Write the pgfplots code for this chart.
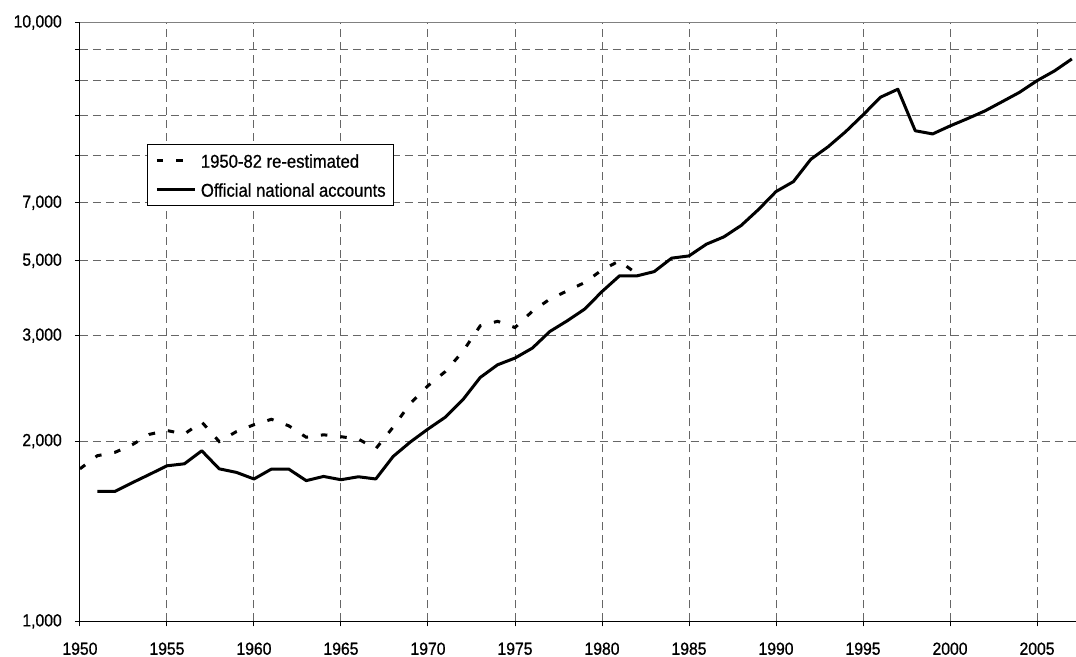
\documentclass[border=0pt]{standalone}
\usepackage{fontspec}
\setmainfont{Liberation Sans}[FakeStretch=0.9, FakeBold=0.8]
\newfontfamily\legfont{Liberation Sans}[FakeStretch=0.9, FakeBold=0.7]
\usepackage{pgfplots}
\usepackage{pgfplotstable}
\pgfplotsset{compat=1.18}

\pgfplotstableread{
year val
1951 1648
1952 1648
1953 1704
1954 1760
1955 1819
1956 1833
1957 1927
1958 1798
1959 1773
1960 1729
1961 1796
1962 1796
1963 1718
1964 1746
1965 1724
1966 1744
1967 1729
1968 1886
1969 1995
1970 2095
1971 2193
1972 2344
1973 2554
1974 2682
1975 2752
1976 2860
1977 3048
1978 3176
1979 3322
1980 3554
1981 3775
1982 3775
1983 3838
1984 4041
1985 4076
1986 4264
1987 4385
1988 4583
1989 4874
1990 5220
1991 5424
1992 5910
1993 6204
1994 6572
1995 7009
1996 7502
1997 7737
1998 6595
1999 6515
2000 6718
2001 6909
2002 7117
2003 7376
2004 7648
2005 7996
2006 8300
2007 8691
}\official

\pgfplotstableread{
year val
1950 1798
1951 1891
1952 1915
1953 1972
1954 2053
1955 2083
1956 2055
1957 2152
1958 1997
1959 2075
1960 2130
1961 2175
1962 2121
1963 2030
1964 2049
1965 2034
1966 2016
1967 1942
1968 2111
1969 2315
1970 2474
1971 2614
1972 2822
1973 3115
1974 3170
1975 3095
1976 3296
1977 3452
1978 3563
1979 3679
1980 3863
1981 3999
1982 3804
}\reest

\begin{document}
\begin{tikzpicture}
\begin{axis}[
  scale only axis, width=996bp, height=599.2bp,
  xmin=1950, xmax=2007.21,
  ymode=log, ymin=1000, ymax=10000,
  axis lines*=left,
  axis line style={black, line width=1bp},
  xtick={1950,1955,1960,1965,1970,1975,1980,1985,1990,1995,2000,2005},
  xticklabels={1950,1955,1960,1965,1970,1975,1980,1985,1990,1995,2000,2005},
  ytick={1000,2000,3000,4000,5000,6000,7000,8000,9000,10000},
  yticklabels={{1,000},{2,000},{3,000},{5,000},{7,000},{},{},{},{},{10,000}},
  minor ytick={},
  tick align=outside, major tick length=5bp,
  tick style={black, line width=1bp},
  grid=major,
  major grid style={black!60, line width=1bp, dash pattern=on 8bp off 5bp},
  ticklabel style={font=\fontsize{17.5bp}{20bp}\selectfont, inner sep=0pt},
  yticklabel style={xshift=-13bp},
  xticklabel style={yshift=-16bp},
  legend style={at={(rel axis cs:0.0673,0.7967)}, anchor=north west,
    draw=black, line width=1bp, fill=white,
    font=\legfont\fontsize{18.5bp}{21bp}\selectfont,
    inner xsep=8bp, inner ysep=8bp, row sep=13bp, column sep=4.5bp,
    nodes={inner sep=0pt, text height=15bp, text depth=1bp}},
  legend cell align=left,
  legend image code/.code={\draw[#1] (0bp,0bp) -- (38bp,0bp);},
]
\addplot[black, line width=3bp, dash pattern=on 6.5bp off 13bp] table[x=year,y=val]{\reest};
\addlegendentry{1950-82 re-estimated}
\addplot[black, line width=3bp, line join=round] table[x=year,y=val]{\official};
\addlegendentry{Official national accounts}
\draw[black!50, line width=1bp] (rel axis cs:0,1) -- (rel axis cs:1,1);
\path (rel axis cs:0,0) coordinate (A) (rel axis cs:1,1) coordinate (B);
\end{axis}
\useasboundingbox ([xshift=-80bp,yshift=-35.3bp]A) rectangle ([yshift=22.5bp]B);
\end{tikzpicture}
\end{document}
